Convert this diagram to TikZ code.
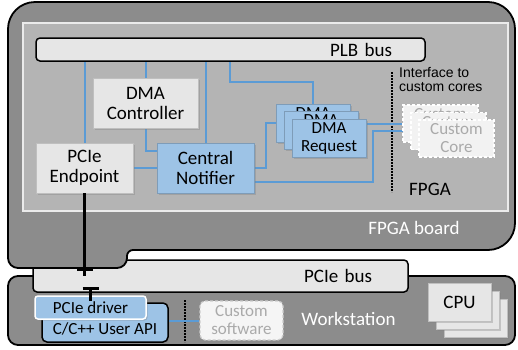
\documentclass[tikz,border=0pt]{standalone}
\usepackage{fontspec}
\setmainfont{Carlito}
\newfontfamily\arialfont{Liberation Sans}
\usepackage{tikz}
\usetikzlibrary{positioning,shadows}
\definecolor{boardgray}{RGB}{140,140,140}
\definecolor{fpgagray}{RGB}{180,180,180}
\definecolor{boxgray}{RGB}{230,230,230}
\definecolor{boxblue}{RGB}{157,195,230}
\definecolor{linkblue}{RGB}{91,155,213}
\definecolor{customgray}{RGB}{170,170,170}
\pgfdeclarelayer{back}
\pgfdeclarelayer{wires}
\pgfsetlayers{back,wires,main}
\tikzset{
  modul/.style={
      draw=black!25,
      line width=0.8pt,
      fill=boxgray,
      align=center,
      inner sep=0pt,
      drop shadow={shadow xshift=1.5pt,shadow yshift=-1.5pt,opacity=.35},
  },
  modulblue/.style={
      modul,
      fill=boxblue,
      draw=boxblue!80!black,
  },
  usercore/.style={
      draw=white,
      line width=1.2pt,
      dash pattern=on 3pt off 2pt,
      fill=black!5,
      text=customgray,
      align=center,
      inner sep=0pt,
      minimum width=75pt, minimum height=37pt,
  },
  bus/.style={
      draw,
      line width=1.5pt,
      rounded corners=4pt,
      fill=boxgray,
      align=right,
      inner ysep=0pt,
  },
  region/.style={
      draw,
      line width=1.8pt,
      fill=boardgray,
  },
  link/.style={
      linkblue,
      line width=2pt,
  },
  plug/.style={
      line width=3pt,
  },
  border/.style={
      draw,
      dash pattern=on 1.6pt off 1.4pt,
      line width=2pt,
  },
  small/.style={
      font=\fontsize{17}{18}\selectfont,
  },
}

\begin{document}
\begin{tikzpicture}[x=1pt,y=-1pt]
  \tikzstyle{every node}=[font=\fontsize{19}{20}\selectfont]
  \useasboundingbox (0,0) rectangle (518,349);

  % boards and buses
  \begin{pgfonlayer}{back}
    \fill[white] (0,0) rectangle (518,349);
    \draw[region, rounded corners=10pt] (8,276) rectangle (515,345);
    \node(PCIEBUS) [bus, minimum width=375pt, minimum height=32pt, text width=303pt, inner xsep=36pt] at (220.5,276) {PCIe bus};
    \draw[region] (8,150) [rounded corners=27pt] -- (8,2) -- (515,2) -- (515,250)
      [rounded corners=6pt] -- (127,250) [rounded corners=10pt] -- (127,268) -- (8,268) -- cycle;
    \draw[fill=fpgagray, draw=black!8, line width=1.2pt] (23,23) rectangle (508,211);
    \draw[border] (392,72) -- (392,192);
    \draw[border] (185,300) -- (185,342);
  \end{pgfonlayer}

  \node(PLB) [bus, minimum width=389pt, minimum height=23pt, text width=323pt, inner xsep=33pt] at (230.5,49.5) {PLB bus};
  \node(CTRL) [modul, minimum width=105pt, minimum height=50pt] at (145.5,103) {DMA\\Controller};
  \node(ENDPOINT) [modul, minimum width=97pt, minimum height=50pt] at (84.5,168) {PCIe\\Endpoint};
  \node(NOTIFIER) [modulblue, minimum width=97pt, minimum height=50pt] at (205.5,168) {Central\\Notifier};
  \node(DMAREQC) [modulblue, small, minimum width=74pt, minimum height=38pt] at (313,123) {DMA\\Request};
  \node(DMAREQB) [modulblue, small, minimum width=74pt, minimum height=38pt] at (321,130.5) {DMA\\Request};
  \node(DMAREQA) [modulblue, small, minimum width=74pt, minimum height=38pt] at (329,138) {DMA\\Request};
  \node(COREC) [usercore, small] at (440.5,123.5) {Custom\\Core};
  \node(COREB) [usercore, small] at (448.5,131) {Custom\\Core};
  \node(COREA) [usercore, small] at (456.5,138.5) {Custom\\Core};
  \node(IFACE) [anchor=north west, inner sep=0pt, align=left, font=\arialfont\fontsize{14}{14}\selectfont] at (399,67) {Interface to\\custom cores};
  \node(FPGA) at (430,189) {FPGA};
  \node(BOARD) [white] at (414,228) {FPGA board};

  \node(API) [modulblue, small, draw=black, line width=1.5pt, rounded corners=5pt, minimum width=126pt,
    text height=27pt, text depth=4pt, inner ysep=4pt] at (105,322.5) {C/C++ User API};
  \node(DRIVER) [modulblue, small, draw=white, line width=1.5pt, rounded corners=3pt, minimum width=111pt, minimum height=23pt] at (90.5,307.5) {PCIe driver};
  \node(SOFTWARE) [usercore, small, draw=customgray!60, fill=black!4, rounded corners=5pt, minimum width=83pt, minimum height=39pt] at (241.5,320.5) {Custom\\software};
  \node(STATION) [white] at (348.5,319) {Workstation};
  \node(CPUC) [modul, minimum width=63pt, minimum height=38pt] at (475.5,318) {};
  \node(CPUB) [modul, minimum width=63pt, minimum height=38pt] at (467.5,310) {};
  \node(CPUA) [modul, minimum width=63pt, minimum height=38pt] at (459.5,302) {CPU};

  % on-chip wiring
  \coordinate (PLBTAP) at (230,61);
  \begin{pgfonlayer}{wires}
    \draw[link] (ENDPOINT.north) -- (ENDPOINT.north |- PLB.south);
    \draw[link] (CTRL.north) -- (CTRL.north |- PLB.south);
    \draw[link] (NOTIFIER.north) -- (NOTIFIER.north |- PLB.south);
    \draw[link] (PLBTAP) -- ++(0,21) -| (DMAREQC.north);
    \draw[link] (CTRL.south) |- ([yshift=17pt]NOTIFIER.west);
    \draw[link] (ENDPOINT.east) -- (NOTIFIER.west);
    \draw[link] (NOTIFIER.east) -- ++(12,0) |- (DMAREQC.west);
    \draw[link] ([yshift=-14pt]NOTIFIER.east) -- ++(119,0) |- (COREB.west);
    \draw[link] (DMAREQA.east |- COREC.west) -- (COREC.west);
    \draw[link] (API.east |- SOFTWARE.west) -- (SOFTWARE.west);
  \end{pgfonlayer}

  % PCIe connector
  \coordinate (PLUGA) at ([yshift=-83pt]ENDPOINT.south);
  \coordinate (PLUGB) at ([yshift=8pt]DRIVER.north);
  \draw[plug] (ENDPOINT.south) -- (PLUGA);
  \draw[plug] (PLUGB) -- ([yshift=-6pt]DRIVER.north);
  \draw[line width=2.5pt] ([xshift=-8pt,yshift=7pt]PLUGA) -- ([xshift=8pt,yshift=7pt]PLUGA);
  \draw[line width=2.5pt] ([xshift=-8pt,yshift=-1pt]PLUGB) -- ([xshift=8pt,yshift=-1pt]PLUGB);
\end{tikzpicture}
\end{document}
